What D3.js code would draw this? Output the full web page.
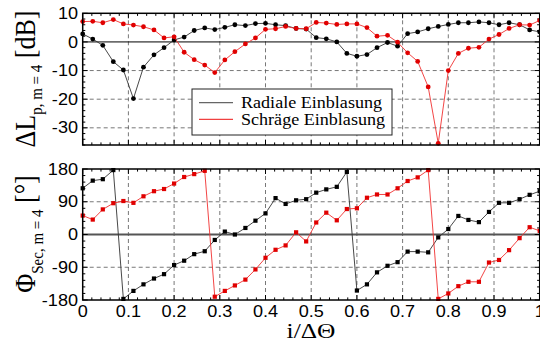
<!DOCTYPE html>
<html><head><meta charset="utf-8">
<script src="https://cdn.jsdelivr.net/npm/d3@7"></script>
<style>body{margin:0;background:#fff}svg{display:block}</style></head>
<body>
<svg id="c" width="540" height="341"></svg>
<script>
const xs=[0,.022,.044,.067,.089,.111,.133,.156,.178,.2,.222,.244,.267,.289,.311,.333,.356,.378,.4,.422,.444,.467,.489,.511,.533,.556,.578,.6,.622,.644,.667,.689,.711,.733,.756,.778,.8,.822,.844,.867,.889,.911,.933,.956,.978,1];
const radialL=[2.8,1.0,-1.2,-6.9,-9.8,-19.8,-8.8,-4.5,-2.0,0.7,
  1.7,4.0,4.9,4.3,5.1,6.0,5.7,6.4,6.5,6.0,
  5.7,4.7,4.5,1.5,1.1,0,-4.0,-5.0,-4.4,-2.0,
  -0.2,-1.5,2.9,3.5,4.6,5.4,6.1,6.7,6.7,7.0,
  6.7,6.0,6.7,6.0,4.2,3.5];
const schraegL=[7.1,7.2,6.7,7.8,6.3,5.9,5.3,4.2,1.4,1.8,
  -3.6,-6.2,-8.1,-10.7,-6.3,-3.4,-0.7,1.4,4.4,4.6,
  5.4,4.7,4.6,6.8,6.6,6.1,6.3,6.3,5.0,2.0,
  2.3,-0.1,-3.8,-6.8,-15.7,-35.4,-10.0,-4.0,-2.2,-1.9,
  1.0,2.6,4.7,6.0,5.9,7.5];
const radialPhi=[127,148,152,177,-177,-155,-137,-121,-109,-84,
  -72,-54,-46,-15,8,0,18,38,58,100,
  84,94,97,115,124,131,172,-154,-137,-104,
  -86,-76,-47,-47,-49,-8,15,51,40,34,
  62,87,87,97,109,119];
const schraegPhi=[52,41,69,86,92,87,105,119,125,140,
  158,166,175,-171,-155,-140,-124,-96,-64,-42,
  -30,6,-19,33,60,39,70,72,101,110,
  110,127,147,157,177,-177,-162,-142,-130,-130,
  -77,-70,-43,-10,20,10];
const xTicks=[0,0.1,0.2,0.3,0.4,0.5,0.6,0.7,0.8,0.9,1];
const xTickLabels=["0","0.1","0.2","0.3","0.4","0.5","0.6","0.7","0.8","0.9","1"];
const lTicks=[10,0,-10,-20,-30];
const lTickLabels=["10","0","-10","-20","-30"];
const phiTicks=[180,90,0,-90,-180];
const phiTickLabels=["180","90","0","-90","-180"];
const seriesNames=["Radiale Einblasung","Schräge Einblasung"];

const svg=d3.select("#c");
const X0=82.7, X1=539.7;
const x=d3.scaleLinear().domain([0,1]).range([X0,X1]);
const yL=d3.scaleLinear().domain([-36,10]).range([145,13.3]);
const yP=d3.scaleLinear().domain([-180,180]).range([300,169]);
const black="#000", red="#e00000";
const SANS="'Liberation Sans',Arial,sans-serif", SERIF="'Liberation Serif','Times New Roman',serif";

function panel(y, yTicks, yLabels, minorStep, zeroStyle, showX){
  const g=svg.append("g");
  const [yb,yt]=y.range();
  xTicks.slice(1,-1).forEach(t=>g.append("line").attr("x1",x(t)).attr("x2",x(t)).attr("y1",yt).attr("y2",yb)
    .attr("stroke","#555").attr("stroke-width",0.8).attr("stroke-dasharray","4,3"));
  yTicks.filter(t=>t!==0 && y(t)>yt+1 && y(t)<yb-1).forEach(t=>g.append("line").attr("x1",X0).attr("x2",X1).attr("y1",y(t)).attr("y2",y(t))
    .attr("stroke","#555").attr("stroke-width",0.8).attr("stroke-dasharray","4,3"));
  g.append("line").attr("x1",X0).attr("x2",X1).attr("y1",y(0)).attr("y2",y(0))
    .attr("stroke",zeroStyle.c).attr("stroke-width",zeroStyle.w);
  const xMinor=d3.range(0,1.0001,0.02);
  xMinor.forEach(t=>{
    const major=xTicks.some(m=>Math.abs(m-t)<1e-6);
    const L=major?5:2.6;
    g.append("line").attr("x1",x(t)).attr("x2",x(t)).attr("y1",yb).attr("y2",yb-L).attr("stroke","#000").attr("stroke-width",1);
    g.append("line").attr("x1",x(t)).attr("x2",x(t)).attr("y1",yt).attr("y2",yt+L).attr("stroke","#000").attr("stroke-width",1);
  });
  const [d0,d1]=y.domain();
  for(let v=Math.ceil(d0/minorStep)*minorStep; v<=d1+1e-6; v+=minorStep){
    const major=yTicks.includes(Math.round(v));
    const L=major?5:2.6;
    g.append("line").attr("x1",X0).attr("x2",X0+L).attr("y1",y(v)).attr("y2",y(v)).attr("stroke","#000").attr("stroke-width",1);
    g.append("line").attr("x1",X1).attr("x2",X1-L).attr("y1",y(v)).attr("y2",y(v)).attr("stroke","#000").attr("stroke-width",1);
  }
  yTicks.forEach((t,i)=>g.append("text").attr("transform",`translate(78,${y(t)+5.6}) scale(1.13,1)`)
    .attr("text-anchor","end").attr("font-family",SANS).attr("font-size",16).text(yLabels[i]));
  if(showX){
    xTicks.forEach((t,i)=>g.append("text").attr("transform",`translate(${x(t)},316.7) scale(1.13,1)`)
      .attr("text-anchor","middle").attr("font-family",SANS).attr("font-size",16).text(xTickLabels[i]));
  }
  return g;
}

const gTop=panel(yL,lTicks,lTickLabels,2,{c:"#000",w:1},false);
const gBot=panel(yP,phiTicks,phiTickLabels,18,{c:"#555",w:2},true);

function series(g,y,vals,col,lineCol,shape){
  const pts=xs.map((d,i)=>[d,vals[i]]);
  g.append("path").datum(pts).attr("fill","none").attr("stroke",lineCol).attr("stroke-width",0.9)
    .attr("d",d3.line().x(d=>x(d[0])).y(d=>y(d[1])));
  if(shape==="circle"){
    g.selectAll(null).data(pts).enter().append("circle").attr("cx",d=>x(d[0])).attr("cy",d=>y(d[1])).attr("r",2.4).attr("fill",col);
  } else {
    g.selectAll(null).data(pts).enter().append("rect").attr("x",d=>x(d[0])-2.1).attr("y",d=>y(d[1])-2.1)
      .attr("width",4.2).attr("height",4.2).attr("fill",col);
  }
}
series(gTop,yL,radialL,black,"#333","circle");
series(gTop,yL,schraegL,red,"#f03030","circle");
series(gBot,yP,radialPhi,black,"#333","rect");
series(gBot,yP,schraegPhi,red,"#f03030","rect");

[yL,yP].forEach(y=>{
  const [yb,yt]=y.range();
  svg.append("rect").attr("x",X0).attr("y",yt).attr("width",X1-X0).attr("height",yb-yt)
    .attr("fill","none").attr("stroke","#000").attr("stroke-width",1.5);
});

const lg=svg.append("g");
lg.append("rect").attr("x",192).attr("y",89).attr("width",200).attr("height",46)
  .attr("fill","#fff").attr("stroke","#222").attr("stroke-width",1);
[["#666",102.7],["#f04040",119.3]].forEach(([c,yy],i)=>{
  lg.append("line").attr("x1",199).attr("x2",233).attr("y1",yy).attr("y2",yy).attr("stroke",c).attr("stroke-width",1.3);
  lg.append("text").attr("transform",`translate(241,${yy+5.6}) scale(1.13,1)`).attr("font-family",SERIF)
    .attr("font-size",16).text(seriesNames[i]);
});

function ytitle(cy, main, sub, unit, subDy){
  const t=svg.append("text").attr("transform",`translate(35,${cy}) scale(1.15,1) rotate(-90)`)
    .attr("text-anchor","middle").attr("font-family",SERIF).attr("font-size",26);
  t.append("tspan").text(main);
  t.append("tspan").attr("font-size",15).attr("dy",subDy).text(sub);
  t.append("tspan").attr("dy",-subDy).text(" "+unit);
}
ytitle(79,"ΔL","p, m = 4","[dB]",6);
ytitle(234,"Φ","Sec, m = 4","[°]",7);
svg.append("text").attr("transform","translate(311,338) scale(1.27,1)").attr("text-anchor","middle")
  .attr("font-family",SERIF).attr("font-size",20).text("i/ΔΘ");
</script>
</body></html>
